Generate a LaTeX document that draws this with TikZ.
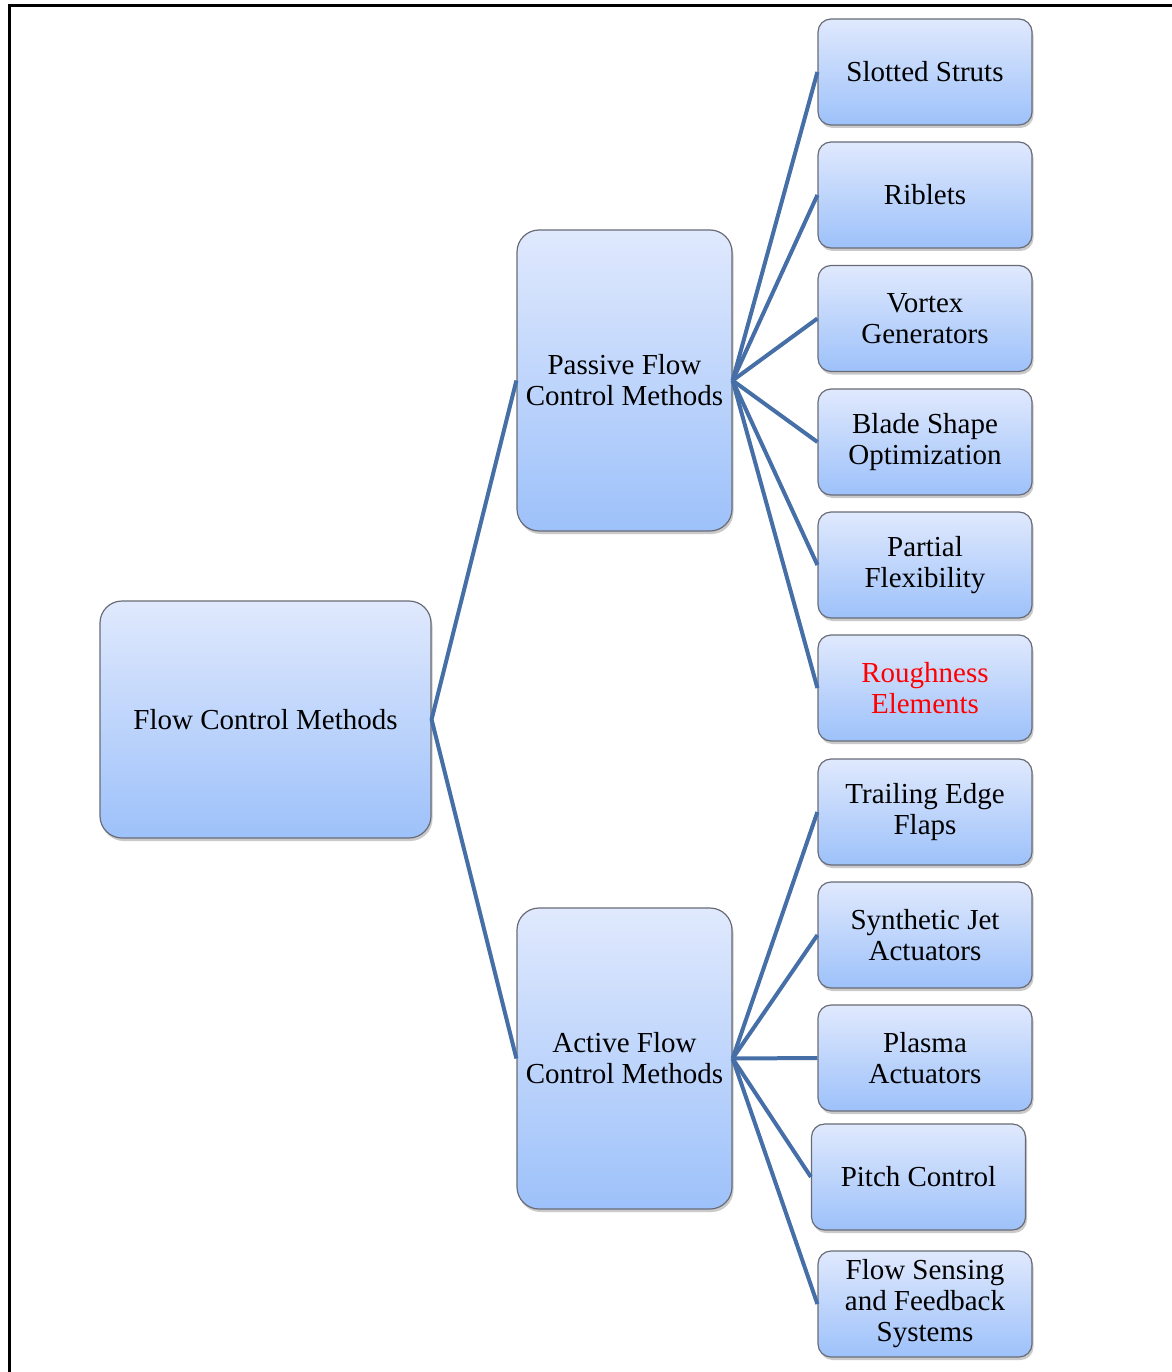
\documentclass[tikz,border=0pt]{standalone}
\usepackage{fontspec}
\setmainfont{Liberation Serif}
\usetikzlibrary{shadows}
\definecolor{linkc}{RGB}{70,111,168}
\definecolor{boxtop}{RGB}{224,233,253}
\definecolor{boxbot}{RGB}{157,193,250}
\definecolor{boxedge}{RGB}{105,108,118}
\definecolor{redtext}{RGB}{255,0,0}
\begin{document}
\begin{tikzpicture}[x=1pt,y=-1pt,
  box/.style={draw=boxedge, line width=1.2pt, top color=boxtop, bottom color=boxbot,
    drop shadow={shadow xshift=1.5pt, shadow yshift=-3pt, opacity=0.35, fill=black!60},
    align=center, font=\fontsize{29}{31}\selectfont, inner sep=0pt},
  bigbox/.style={box, rounded corners=22pt},
  leaf/.style={box, rounded corners=13pt, minimum width=214pt, minimum height=106pt},
  link/.style={draw=linkc, line width=4pt}]
\useasboundingbox (0,0) rectangle (1171,1372);
\draw[line width=3pt, line cap=rect] (9,1372) -- (9,6) -- (1171,6);

\node[bigbox, minimum width=331pt, minimum height=237pt] (fcm) at (265.5,719.5) {Flow Control Methods};
\node[bigbox, minimum width=215pt, minimum height=301pt] (pas) at (624.5,380.5) {Passive Flow\\Control Methods};
\node[bigbox, minimum width=215pt, minimum height=301pt] (act) at (624.5,1058.5) {Active Flow\\Control Methods};

\node[leaf] (p1) at (925,72) {Slotted Struts};
\node[leaf] (p2) at (925,195) {Riblets};
\node[leaf] (p3) at (925,318.5) {Vortex\\Generators};
\node[leaf] (p4) at (925,442) {Blade Shape\\Optimization};
\node[leaf] (p5) at (925,565) {Partial\\Flexibility};
\node[leaf, text=redtext] (p6) at (925,688) {Roughness\\Elements};

\node[leaf] (a1) at (925,812) {Trailing Edge\\Flaps};
\node[leaf] (a2) at (925,935) {Synthetic Jet\\Actuators};
\node[leaf] (a3) at (925,1058) {Plasma\\Actuators};
\node[leaf] (a4) at (918.5,1177) {Pitch Control};
\node[leaf] (a5) at (925,1304) {Flow Sensing\\and Feedback\\Systems};

\draw[link] (pas.west) -- (fcm.east) -- (act.west);
\foreach \n in {p1,p2,p3,p4,p5,p6} \draw[link] (pas.east) -- (\n.west);
\foreach \n in {a1,a2,a3,a4,a5} \draw[link] (act.east) -- (\n.west);
\end{tikzpicture}
\end{document}
